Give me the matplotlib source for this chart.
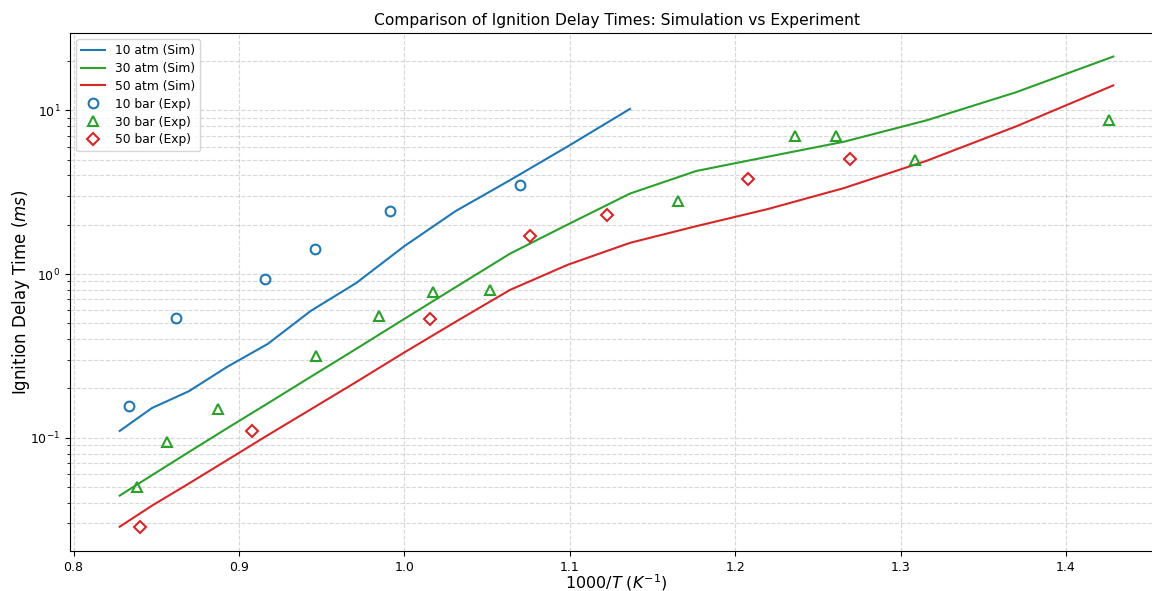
import matplotlib
matplotlib.use("Agg")
import matplotlib.pyplot as plt

# Simulation grid (1000/T)
x_sim = [0.8279, 0.8475, 0.8696, 0.8929, 0.9174, 0.9434, 0.9709, 1.0000, 1.0309,
         1.0638, 1.0989, 1.1364, 1.1765, 1.2195, 1.2658, 1.3158, 1.3699, 1.4286]

sim_10atm = [0.110, 0.152, 0.192, 0.271, 0.374, 0.595, 0.881, 1.48, 2.42, 3.74, 6.03, 10.2]
sim_30atm = [0.0443, 0.0591, 0.0816, 0.1143, 0.162, 0.2355, 0.349, 0.532, 0.830, 1.33,
             2.01, 3.10, 4.26, 5.20, 6.43, 8.69, 12.9, 21.3]
sim_50atm = [0.0286, 0.0385, 0.0524, 0.0730, 0.1036, 0.149, 0.219, 0.332, 0.510, 0.799,
             1.14, 1.55, 1.96, 2.49, 3.35, 4.92, 7.98, 14.2]

# Experimental data
x_exp_10 = [0.8335, 0.8620, 0.9157, 0.9459, 0.9912, 1.0698]
y_exp_10 = [0.157, 0.539, 0.932, 1.42, 2.42, 3.49]

x_exp_30 = [0.8384, 0.8565, 0.8873, 0.9465, 0.9846, 1.0172, 1.0517, 1.1653, 1.2360,
            1.2607, 1.3085, 1.4257]
y_exp_30 = [0.0503, 0.0946, 0.150, 0.316, 0.555, 0.776, 0.799, 2.79, 6.94, 6.94, 4.96, 8.69]

x_exp_50 = [0.8402, 0.9079, 1.0154, 1.0758, 1.1224, 1.2076, 1.2692]
y_exp_50 = [0.0283, 0.110, 0.532, 1.70, 2.29, 3.80, 5.03]

fig = plt.figure(figsize=(11.52, 5.91), dpi=100)
ax = fig.add_axes([70 / 1152, 40 / 591, 1093 / 1152, 518 / 591])

ax.plot(x_sim[:len(sim_10atm)], sim_10atm, color="tab:blue", label="10 atm (Sim)")
ax.plot(x_sim, sim_30atm, color="tab:green", label="30 atm (Sim)")
ax.plot(x_sim, sim_50atm, color="tab:red", label="50 atm (Sim)")

mk = dict(linestyle="none", markerfacecolor="none", markersize=7, markeredgewidth=1.5)
ax.plot(x_exp_10, y_exp_10, marker="o", color="tab:blue", label="10 bar (Exp)", **mk)
ax.plot(x_exp_30, y_exp_30, marker="^", color="tab:green", label="30 bar (Exp)", **mk)
ax.plot(x_exp_50, y_exp_50, marker="D", color="tab:red", label="50 bar (Exp)",
        linestyle="none", markerfacecolor="none", markersize=6, markeredgewidth=1.5)

ax.set_yscale("log")
ax.grid(True, which="both", linestyle="--", alpha=0.5)
ax.set_xlabel("1000/$T$ ($K^{-1}$)", fontsize=11.5, labelpad=-1)
ax.set_ylabel("Ignition Delay Time ($ms$)", fontsize=12, labelpad=-1)
ax.set_title("Comparison of Ignition Delay Times: Simulation vs Experiment", fontsize=11.2)
ax.tick_params(labelsize=9)
ax.legend(loc="upper left", fontsize=8.8, labelspacing=0.4)

fig.savefig("out.png", dpi=100)
